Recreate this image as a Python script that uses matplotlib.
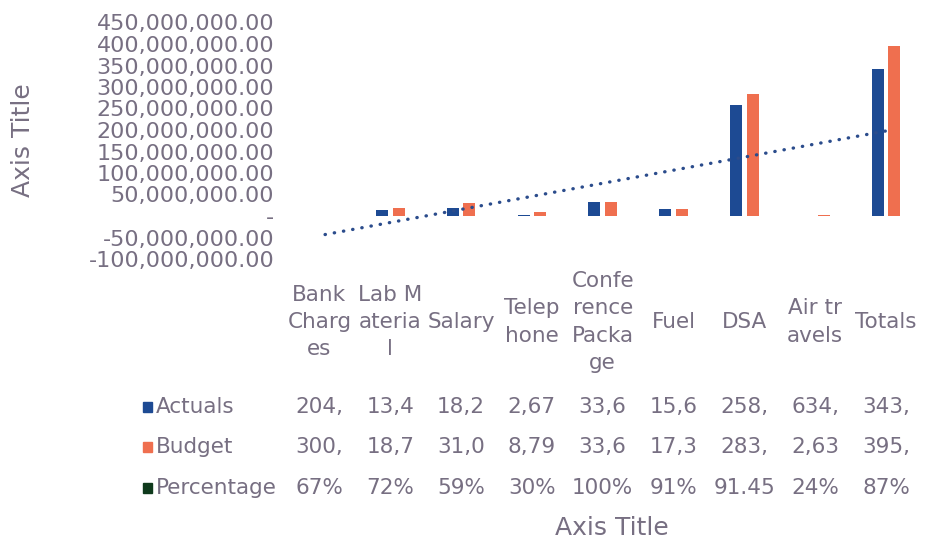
import numpy as np
import matplotlib
matplotlib.use("Agg")
import matplotlib.pyplot as plt
from matplotlib.ticker import FuncFormatter, MultipleLocator
from matplotlib.transforms import blended_transform_factory
from matplotlib.patches import Rectangle

# ---- data ----
categories = ["Bank Charges", "Lab Material", "Salary", "Telephone",
              "Conference Package", "Fuel", "DSA", "Air travels", "Totals"]
tick_labels = ["Bank\nCharg\nes", "Lab M\nateria\nl", "Salary", "Telep\nhone",
               "Confe\nrence\nPacka\nge", "Fuel", "DSA", "Air tr\navels", "Totals"]
actuals = [204000, 13400000, 18200000, 2670000, 33600000,
           15600000, 258000000, 634000, 343000000]
budget = [300000, 18700000, 31000000, 8790000, 33600000,
          17300000, 283000000, 2630000, 395000000]
percentage = [0.67, 0.72, 0.59, 0.30, 1.00, 0.91, 91.45, 0.24, 0.87]
percentage_labels = ["67%", "72%", "59%", "30%", "100%", "91%", "91.45", "24%", "87%"]
series_names = ["Actuals", "Budget", "Percentage"]

# ---- style ----
C_ACT = "#1d4a93"
C_BUD = "#ef6f4f"
C_PCT = "#0f3a1c"
TXT = "#776f82"
FS = 15.5

W, H = 937, 546
fig = plt.figure(figsize=(W / 100, H / 100), dpi=100)
ax = fig.add_axes([284 / W, 1 - 259 / H, 637.5 / W, (259 - 22.5) / H])

x = np.arange(1, len(categories) + 1)
bw = 0.17
off = 0.118
ax.bar(x - off, actuals, width=bw, color=C_ACT)
ax.bar(x + off, budget, width=bw, color=C_BUD)

# linear trendline of Actuals
coef = np.polyfit(x, actuals, 1)
xt = np.array([x[0] + 0.08, x[-1]])
ax.plot(xt, np.polyval(coef, xt), color="#2b4c8c", linewidth=2.4,
        linestyle=(0, (0.1, 2.7)), dash_capstyle="round")

ax.set_xlim(0.5, len(categories) + 0.5)
ax.set_ylim(-100e6, 450e6)
ax.yaxis.set_major_locator(MultipleLocator(50e6))


def fmt(v, pos):
    if abs(v) < 1:
        return "-"
    return f"{v:,.2f}"


ax.yaxis.set_major_formatter(FuncFormatter(fmt))
ax.tick_params(axis="y", length=0, pad=7, labelsize=16, labelcolor=TXT)
ax.tick_params(axis="x", length=0, labelbottom=False)
for s in ax.spines.values():
    s.set_visible(False)

fig.text(23 / W, 1 - 140 / H, "Axis Title", rotation=90, ha="center",
         va="center", fontsize=18, color=TXT)

# ---- data table ----
tr = blended_transform_factory(ax.transData, fig.transFigure)
for xi, lab in zip(x, tick_labels):
    fig.text(xi, 1 - 322 / H, lab, transform=tr, ha="center", va="center",
             fontsize=FS, color=TXT, linespacing=1.45)

row_y = [1 - 407 / H, 1 - 447 / H, 1 - 488 / H]
act_txt = [f"{v:,.2f}"[:4] for v in actuals]
bud_txt = [f"{v:,.2f}"[:4] for v in budget]
rows = [act_txt, bud_txt, percentage_labels]
colors = [C_ACT, C_BUD, C_PCT]
for yy, name, vals, c in zip(row_y, series_names, rows, colors):
    fig.patches.append(Rectangle((143 / W, yy - 4.5 / H), 9 / W, 9.5 / H,
                                 transform=fig.transFigure, color=c))
    fig.text(156 / W, yy, name, ha="left", va="center", fontsize=FS, color=TXT)
    for xi, v in zip(x, vals):
        fig.text(xi, yy, v, transform=tr, ha="center", va="center",
                 fontsize=FS, color=TXT)

fig.text(612 / W, 1 - 528 / H, "Axis Title", ha="center", va="center",
         fontsize=18, color=TXT)

fig.savefig("out.png", dpi=100)
